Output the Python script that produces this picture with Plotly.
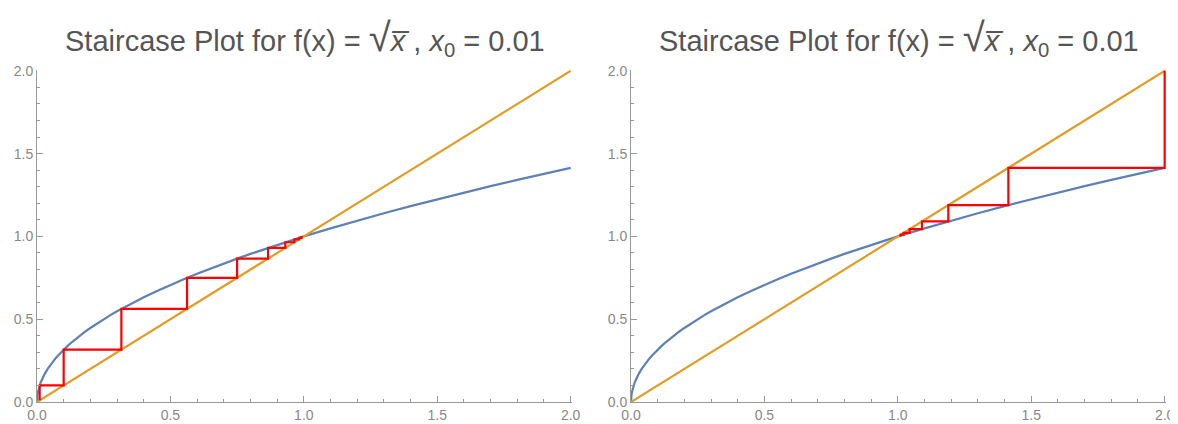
import plotly.graph_objects as go

# curve f(x) = sqrt(x), sampled values
curve_x = [0, 0.00005, 0.0002, 0.0005, 0.001, 0.002, 0.0035, 0.005, 0.0075, 0.01, 0.0125, 0.015,
           0.02, 0.025, 0.03, 0.04, 0.05, 0.06, 0.07, 0.08, 0.09, 0.1, 0.115, 0.13, 0.145, 0.16,
           0.18, 0.2, 0.225, 0.25, 0.275, 0.3, 0.35, 0.4, 0.45, 0.5, 0.55, 0.6, 0.65, 0.7, 0.75,
           0.8, 0.9, 1.0, 1.1, 1.2, 1.3, 1.4, 1.5, 1.6, 1.7, 1.8, 1.9, 2.0]
curve_y = [0, 0.0071, 0.0141, 0.0224, 0.0316, 0.0447, 0.0592, 0.0707, 0.0866, 0.1, 0.1118, 0.1225,
           0.1414, 0.1581, 0.1732, 0.2, 0.2236, 0.2449, 0.2646, 0.2828, 0.3, 0.3162, 0.3391, 0.3606,
           0.3808, 0.4, 0.4243, 0.4472, 0.4743, 0.5, 0.5244, 0.5477, 0.5916, 0.6325, 0.6708, 0.7071,
           0.7416, 0.7746, 0.8062, 0.8367, 0.8660, 0.8944, 0.9487, 1.0, 1.0488, 1.0954, 1.1402,
           1.1832, 1.2247, 1.2649, 1.3038, 1.3416, 1.3784, 1.4142]
diag_x = [0, 2]
diag_y = [0, 2]

# iterates of the staircase
left_iter = [0.01, 0.1, 0.3162, 0.5623, 0.7499, 0.8660, 0.9306, 0.9647, 0.9822, 0.9910, 0.9955]
right_iter = [2.0, 1.4142, 1.1892, 1.0905, 1.0443, 1.0219, 1.0109, 1.0054]

tick_vals = [0, 0.5, 1.0, 1.5, 2.0]
tick_text = ["0.0", "0.5", "1.0", "1.5", "2.0"]

title_text = ("Staircase Plot for f(x) = <span style='font-size:40px'>√</span><i>x̅</i> , "
              "<i>x</i><sub>0</sub> = 0.01")

BLUE = "#5E81B5"
ORANGE = "#E19C24"
RED = "#FF0000"
AXIS = "#999999"
LABEL = "#888888"


def stair(it):
    xs, ys = [it[0]], [it[0]]
    for a, b in zip(it[:-1], it[1:]):
        xs += [a, b]
        ys += [b, b]
    return xs, ys


fig = go.Figure()
for k, it in enumerate([left_iter, right_iter]):
    xa = "x" if k == 0 else "x2"
    ya = "y" if k == 0 else "y2"
    fig.add_trace(go.Scatter(x=curve_x, y=curve_y, mode="lines", line=dict(color=BLUE, width=2.2),
                             xaxis=xa, yaxis=ya, showlegend=False))
    fig.add_trace(go.Scatter(x=diag_x, y=diag_y, mode="lines", line=dict(color=ORANGE, width=2.2),
                             xaxis=xa, yaxis=ya, showlegend=False))
    sx, sy = stair(it)
    fig.add_trace(go.Scatter(x=sx, y=sy, mode="lines", line=dict(color=RED, width=2.2),
                             xaxis=xa, yaxis=ya, showlegend=False))

# page body has an 8px margin: figure occupies window minus that offset
OFF = 8
W, H = 1178 - OFF, 424 - OFF


def px_x(p):
    return (p - OFF) / W


def px_y(p):
    return 1 - (p - OFF) / H


x_domains = [[px_x(37), px_x(572)], [px_x(631), px_x(1166)]]
y_domain = [px_y(402), px_y(70)]

axis_common = dict(range=[0, 2.005], showgrid=False, zeroline=False, showline=True, linecolor=AXIS,
                   linewidth=1, ticks="inside", ticklen=6, tickcolor=AXIS, tickwidth=1,
                   tickvals=tick_vals, ticktext=tick_text, automargin=False,
                   tickfont=dict(family="Liberation Sans, Arial", size=14, color=LABEL),
                   minor=dict(dtick=0.1, ticks="inside", ticklen=3, tickcolor=AXIS, tickwidth=1),
                   fixedrange=True)

layout = dict(width=W, height=H, margin=dict(l=0, r=0, t=0, b=0),
              plot_bgcolor="white", paper_bgcolor="white", annotations=[])
for k in range(2):
    sfx = "" if k == 0 else "2"
    layout["xaxis" + sfx] = dict(axis_common, domain=x_domains[k], anchor="y" + sfx)
    layout["yaxis" + sfx] = dict(axis_common, domain=y_domain, anchor="x" + sfx)
    layout["annotations"].append(dict(
        text=title_text, x=(x_domains[k][0] + x_domains[k][1]) / 2, y=px_y(38),
        xref="paper", yref="paper", xanchor="center", yanchor="middle", showarrow=False,
        font=dict(family="Liberation Sans, Arial", size=29, color="#555555")))

fig.update_layout(**layout)
fig.write_html("out.html")
